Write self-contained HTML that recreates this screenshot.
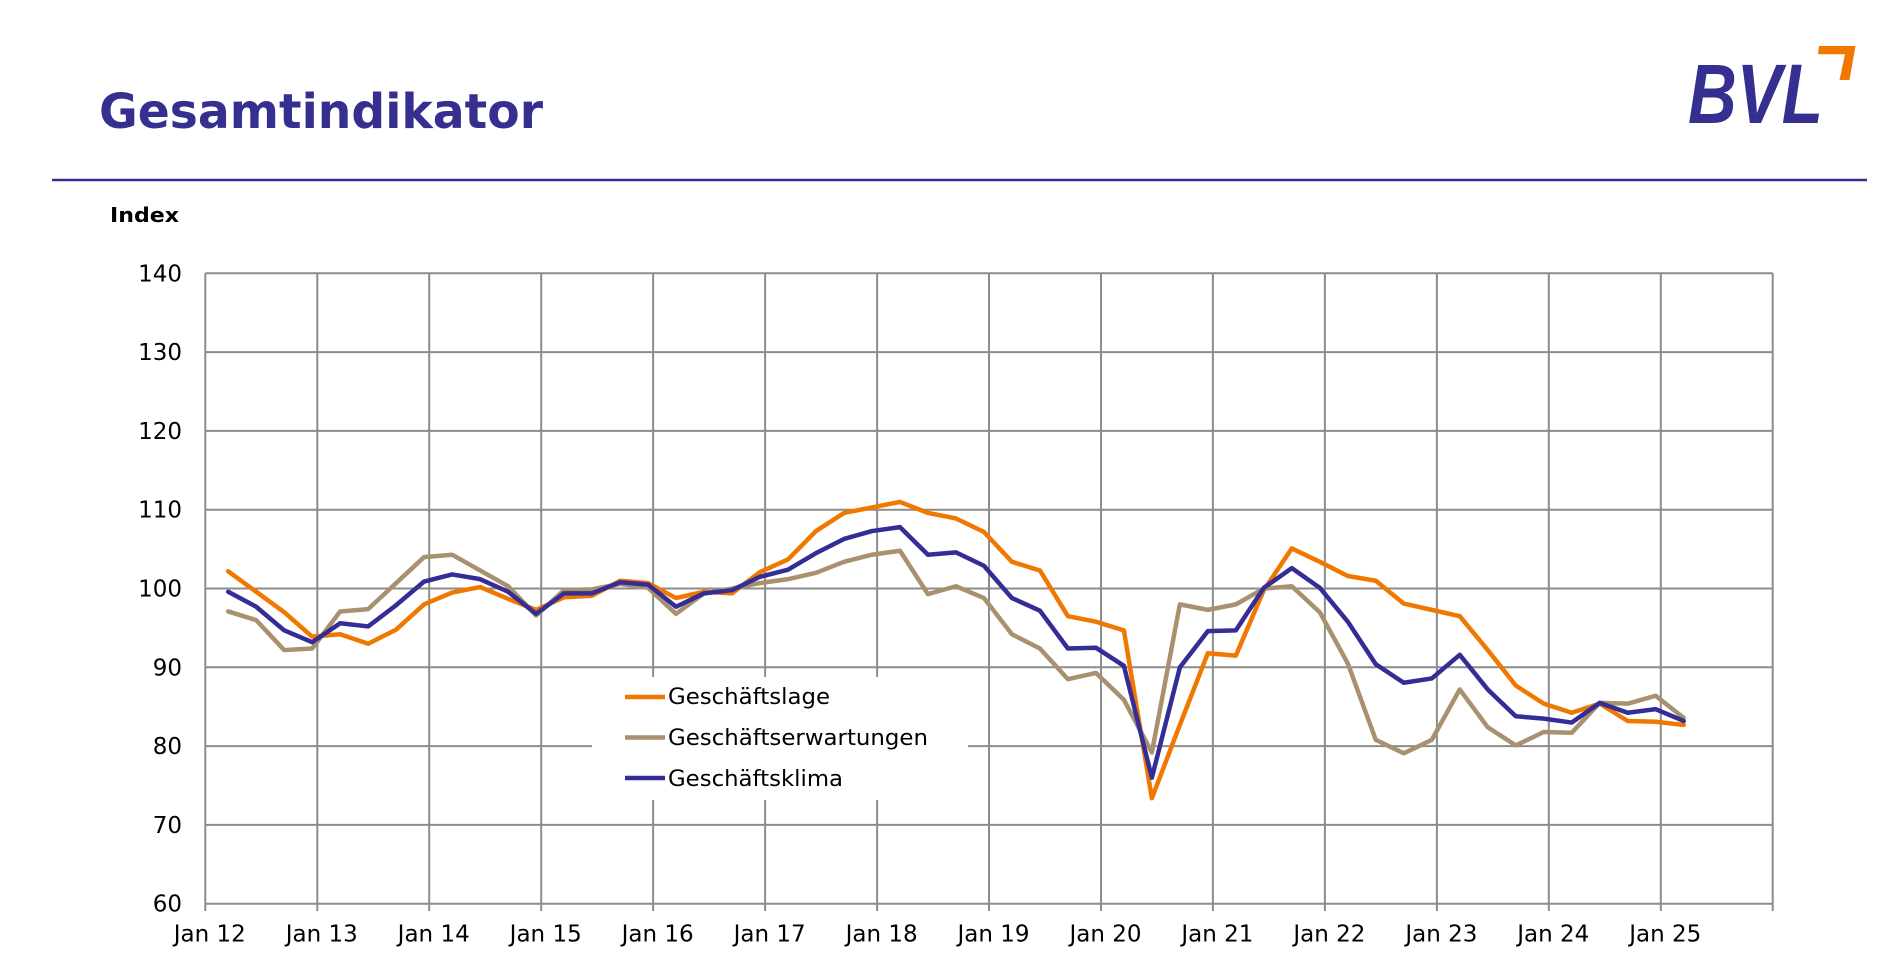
<!DOCTYPE html>
<html>
<head>
<meta charset="utf-8">
<style>
html,body{margin:0;padding:0;background:#fff;}
svg{display:block;}
text{font-family:"DejaVu Sans","Liberation Sans",sans-serif;}
</style>
</head>
<body>
<svg width="1885" height="970" viewBox="0 0 1885 970" xmlns="http://www.w3.org/2000/svg">
<rect x="0" y="0" width="1885" height="970" fill="#fff"/>
<!-- Title -->
<text x="99" y="128" font-size="48" font-weight="bold" fill="#35308F" textLength="444" lengthAdjust="spacingAndGlyphs">Gesamtindikator</text>
<!-- Logo -->
<text x="1688" y="123" font-size="84" font-style="italic" font-weight="bold" fill="#35308F" textLength="135" lengthAdjust="spacingAndGlyphs" style="font-family:'Liberation Sans',sans-serif">BVL</text>
<polygon points="1819,46 1855.5,46 1849.5,80 1839.5,80 1845,54.3 1818,54.3" fill="#F07800"/>
<!-- header line -->
<line x1="52" y1="180" x2="1867" y2="180" stroke="#35308F" stroke-width="2.5"/>
<!-- Index label -->
<text x="110" y="222" font-size="20" font-weight="bold" fill="#000" textLength="69" lengthAdjust="spacingAndGlyphs">Index</text>

<!-- grid -->
<g stroke="#8c8c8c" stroke-width="2" fill="none">
<line x1="205.3" y1="273.3" x2="1772.7" y2="273.3"/>
<line x1="205.3" y1="352.1" x2="1772.7" y2="352.1"/>
<line x1="205.3" y1="430.9" x2="1772.7" y2="430.9"/>
<line x1="205.3" y1="509.7" x2="1772.7" y2="509.7"/>
<line x1="205.3" y1="588.5" x2="1772.7" y2="588.5"/>
<line x1="205.3" y1="667.3" x2="1772.7" y2="667.3"/>
<line x1="205.3" y1="746.1" x2="1772.7" y2="746.1"/>
<line x1="205.3" y1="824.9" x2="1772.7" y2="824.9"/>
<line x1="205.3" y1="903.7" x2="1772.7" y2="903.7"/>
<line x1="205.3" y1="273.3" x2="205.3" y2="911"/>
<line x1="317.3" y1="273.3" x2="317.3" y2="911"/>
<line x1="429.2" y1="273.3" x2="429.2" y2="911"/>
<line x1="541.2" y1="273.3" x2="541.2" y2="911"/>
<line x1="653.1" y1="273.3" x2="653.1" y2="911"/>
<line x1="765.1" y1="273.3" x2="765.1" y2="911"/>
<line x1="877.1" y1="273.3" x2="877.1" y2="911"/>
<line x1="989.0" y1="273.3" x2="989.0" y2="911"/>
<line x1="1101.0" y1="273.3" x2="1101.0" y2="911"/>
<line x1="1212.9" y1="273.3" x2="1212.9" y2="911"/>
<line x1="1324.9" y1="273.3" x2="1324.9" y2="911"/>
<line x1="1436.9" y1="273.3" x2="1436.9" y2="911"/>
<line x1="1548.8" y1="273.3" x2="1548.8" y2="911"/>
<line x1="1660.8" y1="273.3" x2="1660.8" y2="911"/>
<line x1="1772.7" y1="273.3" x2="1772.7" y2="911"/>
</g>

<!-- y labels -->
<g font-size="23" fill="#000" text-anchor="end">
<text x="182" y="281.3">140</text>
<text x="182" y="360.1">130</text>
<text x="182" y="438.9">120</text>
<text x="182" y="517.7">110</text>
<text x="182" y="596.5">100</text>
<text x="182" y="675.3">90</text>
<text x="182" y="754.1">80</text>
<text x="182" y="832.9">70</text>
<text x="182" y="911.7">60</text>
</g>

<!-- x labels -->
<g font-size="23" fill="#000" text-anchor="middle">
<text x="209.8" y="941.7">Jan 12</text>
<text x="321.8" y="941.7">Jan 13</text>
<text x="433.7" y="941.7">Jan 14</text>
<text x="545.7" y="941.7">Jan 15</text>
<text x="657.6" y="941.7">Jan 16</text>
<text x="769.6" y="941.7">Jan 17</text>
<text x="881.6" y="941.7">Jan 18</text>
<text x="993.5" y="941.7">Jan 19</text>
<text x="1105.5" y="941.7">Jan 20</text>
<text x="1217.4" y="941.7">Jan 21</text>
<text x="1329.4" y="941.7">Jan 22</text>
<text x="1441.4" y="941.7">Jan 23</text>
<text x="1553.3" y="941.7">Jan 24</text>
<text x="1665.3" y="941.7">Jan 25</text>
</g>

<!-- legend box -->
<rect x="592" y="677" width="376" height="123" fill="#fff"/>
<g stroke-width="4.5" stroke-linecap="butt">
<line x1="625" y1="697" x2="665" y2="697" stroke="#F07800"/>
<line x1="625" y1="737.5" x2="665" y2="737.5" stroke="#A8916F"/>
<line x1="625" y1="778" x2="665" y2="778" stroke="#342D96"/>
</g>
<g font-size="22" fill="#000">
<text x="668" y="704" textLength="162" lengthAdjust="spacingAndGlyphs">Geschäftslage</text>
<text x="668" y="745" textLength="260" lengthAdjust="spacingAndGlyphs">Geschäftserwartungen</text>
<text x="668" y="786" textLength="175" lengthAdjust="spacingAndGlyphs">Geschäftsklima</text>
</g>

<!-- series -->
<g transform="matrix(27.99 0 0 -7.88 228.2 1376.6)" fill="none" stroke-linejoin="round" stroke-linecap="round">
<polyline vector-effect="non-scaling-stroke" stroke="#F07800" stroke-width="4.5" points="0,102.2 1,99.6 2,97.0 3,93.9 4,94.2 5,93.0 6,94.8 7,98.0 8,99.5 9,100.2 10,98.7 11,97.3 12,98.9 13,99.1 14,101.0 15,100.7 16,98.8 17,99.6 18,99.4 19,102.1 20,103.7 21,107.3 22,109.6 23,110.3 24,111.0 25,109.6 26,108.9 27,107.2 28,103.4 29,102.3 30,96.5 31,95.8 32,94.7 33,73.4 34,82.7 35,91.8 36,91.5 37,99.8 38,105.1 39,103.4 40,101.6 41,101.0 42,98.1 43,97.3 44,96.5 45,92.2 46,87.7 47,85.4 48,84.25 49,85.4 50,83.2 51,83.1 52,82.7"/>
<polyline vector-effect="non-scaling-stroke" stroke="#A8916F" stroke-width="4.5" points="0,97.1 1,96.0 2,92.2 3,92.4 4,97.1 5,97.4 6,100.7 7,104.0 8,104.3 9,102.3 10,100.3 11,96.6 12,99.8 13,99.9 14,100.6 15,100.1 16,96.8 17,99.4 18,100.0 19,100.7 20,101.2 21,102.0 22,103.4 23,104.3 24,104.8 25,99.3 26,100.3 27,98.8 28,94.2 29,92.4 30,88.5 31,89.3 32,85.9 33,79.2 34,98.0 35,97.3 36,98.0 37,100.0 38,100.3 39,97.0 40,90.5 41,80.8 42,79.1 43,80.8 44,87.2 45,82.4 46,80.1 47,81.8 48,81.7 49,85.5 50,85.4 51,86.4 52,83.6"/>
<polyline vector-effect="non-scaling-stroke" stroke="#342D96" stroke-width="4.5" points="0,99.6 1,97.7 2,94.7 3,93.2 4,95.6 5,95.2 6,97.9 7,100.9 8,101.8 9,101.2 10,99.6 11,96.8 12,99.4 13,99.4 14,100.8 15,100.5 16,97.7 17,99.4 18,99.8 19,101.5 20,102.4 21,104.5 22,106.3 23,107.3 24,107.8 25,104.3 26,104.6 27,102.9 28,98.8 29,97.2 30,92.4 31,92.5 32,90.2 33,76.0 34,90.0 35,94.6 36,94.7 37,100.1 38,102.6 39,100.1 40,95.8 41,90.4 42,88.05 43,88.6 44,91.6 45,87.2 46,83.8 47,83.5 48,83.0 49,85.5 50,84.25 51,84.7 52,83.2"/>
</g>
</svg>
</body>
</html>
